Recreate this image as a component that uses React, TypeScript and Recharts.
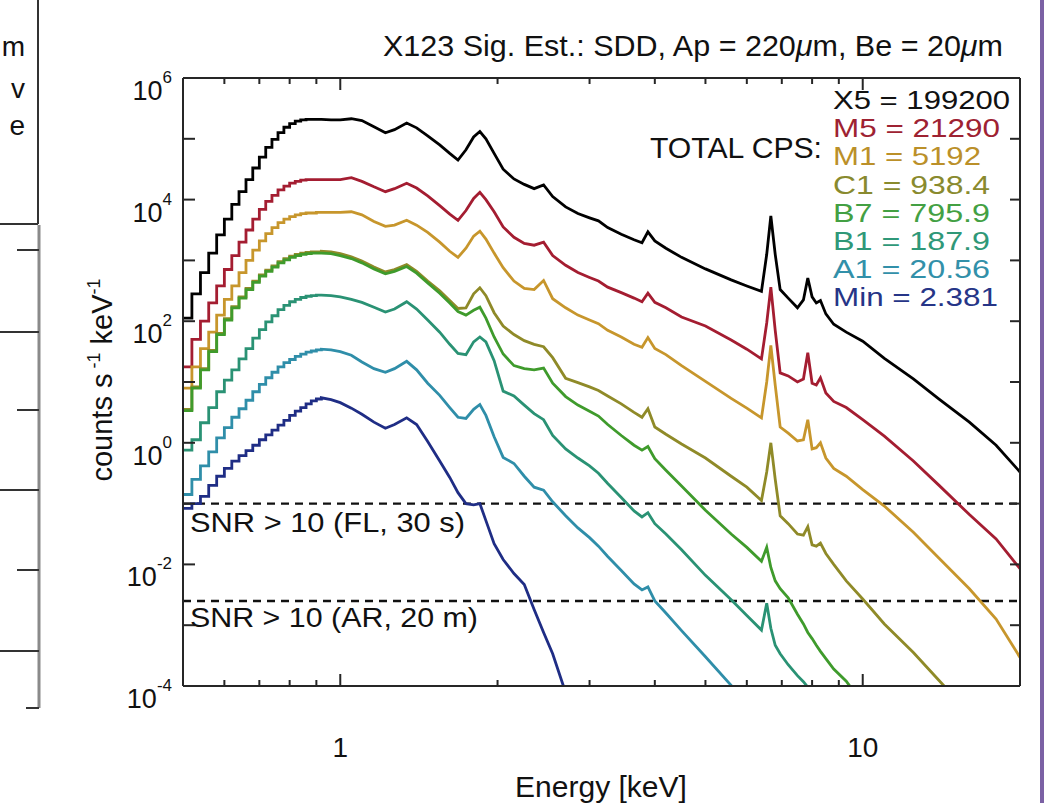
import React from 'react';
import { LineChart, Line, XAxis, YAxis, ReferenceLine } from 'recharts';

// ---------------- data ----------------
// Energies (keV). Low-energy part is binned: each value holds from its energy to the next one.
const LOW_E = [0.50, 0.52, 0.54, 0.56, 0.58, 0.60, 0.62, 0.64, 0.66, 0.68, 0.70, 0.72, 0.74, 0.76, 0.78, 0.80, 0.82, 0.84, 0.86, 0.88, 0.90];
const HIGH_E = [0.92, 0.96, 1.00, 1.05, 1.10, 1.16, 1.22, 1.27, 1.34, 1.40,
  1.47, 1.55, 1.62, 1.68, 1.74, 1.80, 1.85, 1.90, 1.97, 2.05,
  2.15, 2.25, 2.35, 2.45, 2.55, 2.70, 2.85, 3.00, 3.12, 3.25,
  3.45, 3.65, 3.78, 3.88, 4.00, 4.20, 4.50, 5.00, 5.60, 6.00,
  6.40, 6.55, 6.67, 6.80, 6.95, 7.20, 7.50, 7.70, 7.85, 8.00,
  8.15, 8.30, 8.50, 8.80, 9.30, 10.0, 11.0, 12.5, 14.0, 16.0,
  18.0, 20.0];

// Values are log10(counts s^-1 keV^-1); missing entries = below the plotted range.
const X5_LOW = [2.05, 2.45, 2.80, 3.12, 3.42, 3.68, 3.92, 4.13, 4.33, 4.52, 4.70, 4.86, 4.99, 5.10, 5.19, 5.25, 5.29, 5.31, 5.32, 5.32, 5.32];
const X5_HIGH = [5.32, 5.31, 5.31, 5.33, 5.30, 5.20, 5.10, 5.15, 5.26, 5.18,
  5.05, 4.90, 4.76, 4.65, 4.82, 5.03, 5.12, 5.00, 4.76, 4.50,
  4.34, 4.25, 4.18, 4.24, 4.05, 3.88, 3.77, 3.70, 3.65, 3.54,
  3.43, 3.34, 3.29, 3.47, 3.32, 3.20, 3.05, 2.86, 2.68, 2.58,
  2.49, 3.10, 3.73, 3.10, 2.52, 2.38, 2.22, 2.35, 2.71, 2.40,
  2.30, 2.34, 2.12, 1.95, 1.82, 1.67, 1.39, 1.05, 0.72, 0.34,
  -0.04, -0.48];

const M5_LOW = [1.25, 1.70, 2.00, 2.30, 2.58, 2.85, 3.08, 3.30, 3.50, 3.68, 3.84, 3.97, 4.07, 4.16, 4.22, 4.27, 4.30, 4.32, 4.33, 4.33, 4.33];
const M5_HIGH = [4.33, 4.33, 4.33, 4.36, 4.30, 4.21, 4.13, 4.18, 4.27, 4.19,
  4.06, 3.90, 3.76, 3.66, 3.82, 4.02, 4.12, 4.00, 3.80, 3.55,
  3.38, 3.28, 3.25, 3.30, 3.08, 2.92, 2.80, 2.72, 2.66, 2.56,
  2.47, 2.38, 2.32, 2.46, 2.31, 2.22, 2.07, 1.92, 1.69, 1.54,
  1.38, 1.97, 2.56, 1.85, 1.15, 1.10, 1.00, 1.05, 1.48, 0.98,
  0.95, 1.07, 0.82, 0.68, 0.58, 0.38, 0.11, -0.30, -0.70, -1.18,
  -1.58, -2.07];

const M1_LOW = [0.90, 1.25, 1.55, 1.82, 2.10, 2.36, 2.58, 2.80, 3.00, 3.17, 3.32, 3.44, 3.54, 3.62, 3.68, 3.72, 3.75, 3.77, 3.78, 3.78, 3.79];
const M1_HIGH = [3.79, 3.79, 3.79, 3.80, 3.75, 3.64, 3.56, 3.58, 3.66, 3.58,
  3.46, 3.30, 3.15, 3.05, 3.20, 3.40, 3.48, 3.35, 3.12, 2.88,
  2.66, 2.54, 2.52, 2.67, 2.37, 2.22, 2.10, 2.02, 1.96, 1.85,
  1.74, 1.62, 1.57, 1.73, 1.55, 1.45, 1.27, 1.01, 0.73, 0.57,
  0.41, 1.00, 1.60, 0.95, 0.26, 0.16, 0.03, 0.05, 0.38, -0.10,
  -0.08, 0.00, -0.25, -0.42, -0.55, -0.77, -1.04, -1.47, -1.90, -2.40,
  -2.90, -3.53];

const C1_LOW = [0.55, 0.92, 1.22, 1.52, 1.80, 2.04, 2.24, 2.40, 2.54, 2.66, 2.76, 2.84, 2.91, 2.98, 3.03, 3.07, 3.10, 3.12, 3.13, 3.14, 3.14];
const C1_HIGH = [3.15, 3.14, 3.11, 3.06, 2.99, 2.89, 2.81, 2.85, 2.93, 2.82,
  2.66, 2.50, 2.34, 2.21, 2.22, 2.45, 2.55, 2.42, 2.14, 1.92,
  1.78, 1.68, 1.62, 1.58, 1.40, 1.06, 0.99, 0.92, 0.86, 0.77,
  0.64, 0.50, 0.42, 0.56, 0.26, 0.14, -0.02, -0.25, -0.55, -0.73,
  -0.95, -0.48, 0.00, -0.60, -1.20, -1.33, -1.50, -1.52, -1.38, -1.68,
  -1.70, -1.65, -1.82, -2.00, -2.27, -2.57, -2.98, -3.45, -3.91, -4.45];

const B7_LOW = [0.53, 0.90, 1.20, 1.50, 1.78, 2.02, 2.22, 2.38, 2.52, 2.64, 2.74, 2.82, 2.89, 2.96, 3.01, 3.05, 3.08, 3.10, 3.11, 3.12, 3.12];
const B7_HIGH = [3.12, 3.11, 3.08, 3.03, 2.96, 2.86, 2.78, 2.82, 2.90, 2.79,
  2.63, 2.46, 2.30, 2.16, 2.10, 2.18, 2.23, 2.05, 1.74, 1.46,
  1.27, 1.22, 1.20, 1.23, 0.98, 0.76, 0.62, 0.52, 0.44, 0.30,
  0.12, -0.04, -0.12, -0.06, -0.26, -0.45, -0.71, -1.11, -1.50, -1.72,
  -1.95, -1.72, -2.05, -2.27, -2.40, -2.55, -2.82, -2.98, -3.12, -3.22,
  -3.33, -3.43, -3.55, -3.72, -3.92, -4.30];

const B1_LOW = [-0.12, 0.05, 0.33, 0.58, 0.84, 1.03, 1.20, 1.38, 1.55, 1.72, 1.86, 1.99, 2.09, 2.19, 2.26, 2.32, 2.36, 2.39, 2.41, 2.42, 2.43];
const B1_HIGH = [2.43, 2.42, 2.40, 2.36, 2.31, 2.23, 2.15, 2.20, 2.32, 2.20,
  2.02, 1.82, 1.62, 1.47, 1.45, 1.66, 1.74, 1.66, 1.35, 0.85,
  0.77, 0.62, 0.48, 0.38, 0.12, -0.10, -0.25, -0.38, -0.50, -0.67,
  -0.90, -1.12, -1.22, -1.15, -1.33, -1.50, -1.76, -2.18, -2.58, -2.84,
  -3.08, -2.64, -3.05, -3.33, -3.47, -3.65, -3.83, -3.93, -4.02, -4.12];

const A1_LOW = [-0.85, -0.60, -0.38, -0.15, 0.08, 0.25, 0.42, 0.56, 0.70, 0.84, 0.96, 1.07, 1.16, 1.25, 1.32, 1.37, 1.42, 1.46, 1.49, 1.51, 1.53];
const A1_HIGH = [1.54, 1.53, 1.50, 1.44, 1.33, 1.22, 1.16, 1.22, 1.34, 1.20,
  0.98, 0.78, 0.58, 0.42, 0.40, 0.55, 0.63, 0.45, 0.10, -0.24,
  -0.34, -0.55, -0.73, -0.78, -0.97, -1.20, -1.40, -1.56, -1.70, -1.87,
  -2.10, -2.32, -2.42, -2.37, -2.60, -2.80, -3.09, -3.52, -3.99, -4.28];

const MIN_LOW = [-1.08, -1.00, -0.88, -0.70, -0.55, -0.42, -0.30, -0.21, -0.13, -0.04, 0.05, 0.13, 0.21, 0.29, 0.37, 0.45, 0.52, 0.58, 0.64, 0.69, 0.72];
const MIN_HIGH = [0.74, 0.71, 0.66, 0.57, 0.47, 0.34, 0.24, 0.30, 0.41, 0.30,
  0.02, -0.30, -0.57, -0.82, -1.00, -1.02, -1.00, -1.28, -1.66, -1.92,
  -2.15, -2.33, -2.74, -3.12, -3.47, -4.11];

const SERIES_NAMES = ['X5', 'M5', 'M1', 'C1', 'B7', 'B1', 'A1', 'Min'];
const TOTAL_CPS = ['199200', '21290', '5192', '938.4', '795.9', '187.9', '20.56', '2.381'];
const SERIES_COLORS = ['#000000', '#a41d31', '#c7962c', '#8f8a28', '#3f9b2c', '#2a9274', '#2f8ea9', '#1f2d85'];
const TEXT_COLORS = ['#111111', '#9e2232', '#bb9029', '#898a2e', '#43a043', '#2f9878', '#3290a9', '#263587'];
const LEGEND_WIDTHS = [177, 167, 148, 157, 157, 157, 157, 165];
const SERIES_LOW = [X5_LOW, M5_LOW, M1_LOW, C1_LOW, B7_LOW, B1_LOW, A1_LOW, MIN_LOW];
const SERIES_HIGH = [X5_HIGH, M5_HIGH, M1_HIGH, C1_HIGH, B7_HIGH, B1_HIGH, A1_HIGH, MIN_HIGH];

const X_TICKS = [0.6, 0.7, 0.8, 0.9, 1, 2, 3, 4, 5, 6, 7, 8, 9, 10, 20];
const X_LABELLED = [1, 10];
const Y_TICKS = [1e-4, 1e-3, 1e-2, 1e-1, 1, 1e1, 1e2, 1e3, 1e4, 1e5, 1e6];
const Y_LABELLED_EXP = [-4, -2, 0, 2, 4, 6];
const SNR_LEVELS = [0.1, 0.0025];
const SNR_LABELS = ['SNR > 10 (FL, 30 s)', 'SNR > 10 (AR, 20 m)'];
const NEIGHBOUR_TEXT = ['m', 'v', 'e'];

// ---------------- table for the library ----------------
const toCounts = (lg: number | undefined) => (lg === undefined || lg === null ? null : Math.pow(10, lg));
type Row = { e: number; [k: string]: number | null };
const rows: Row[] = [];
LOW_E.forEach((e0, i) => {
  const e1 = i + 1 < LOW_E.length ? LOW_E[i + 1] : HIGH_E[0];
  const a: Row = { e: e0 };
  const b: Row = { e: e1 };
  SERIES_NAMES.forEach((name, s) => {
    a[name] = toCounts(SERIES_LOW[s][i]);
    b[name] = toCounts(SERIES_LOW[s][i]);
  });
  rows.push(a, b);
});
HIGH_E.forEach((e, i) => {
  const r: Row = { e };
  SERIES_NAMES.forEach((name, s) => {
    r[name] = toCounts(SERIES_HIGH[s][i]);
  });
  rows.push(r);
});

// ---------------- layout & styling ----------------
const FONT = "'Liberation Sans', Arial, Helvetica, sans-serif";
const AXIS_COLOR = '#262626';
const W = 1052;
const H = 803;
const MARGIN = { top: 78, right: 32, bottom: 57, left: 103 };
const Y_AXIS_W = 80;
const X_AXIS_H = 60;
const PLOT_TOP = MARGIN.top;
const PLOT_RIGHT = W - MARGIN.right;

// Bottom axis tick: the library gives x (scaled energy) and y (bottom edge of the plot).
const XTick = (props: any) => {
  const { x, y, payload } = props;
  const major = X_LABELLED.includes(payload.value);
  const len = major ? 12 : 6;
  return (
    <g>
      <line x1={x} y1={y} x2={x} y2={y - len} stroke={AXIS_COLOR} strokeWidth={2} />
      <line x1={x} y1={PLOT_TOP} x2={x} y2={PLOT_TOP + len} stroke={AXIS_COLOR} strokeWidth={2} />
      {major && (
        <text x={x} y={y + 71} textAnchor="middle" fontSize={28} fontFamily={FONT} fill="#111">
          {payload.value}
        </text>
      )}
    </g>
  );
};

// Left axis tick: the library gives x (left edge of the plot) and y (scaled count rate).
const YTick = (props: any) => {
  const { x, y, payload } = props;
  const exp = Math.round(Math.log10(payload.value));
  const labelled = Y_LABELLED_EXP.includes(exp);
  return (
    <g>
      <line x1={x} y1={y} x2={x + 12} y2={y} stroke={AXIS_COLOR} strokeWidth={2} />
      <line x1={PLOT_RIGHT} y1={y} x2={PLOT_RIGHT - 10} y2={y} stroke={AXIS_COLOR} strokeWidth={2} />
      {labelled && (
        <text x={x - 11} y={y + 22} textAnchor="end" fontSize={27} fontFamily={FONT} fill="#111">
          10
          <tspan dy={-17} fontSize={17}>{exp}</tspan>
        </text>
      )}
    </g>
  );
};

const axisLineStyle = { stroke: AXIS_COLOR, strokeWidth: 2 };

export default function App() {
  return (
    <div style={{ position: 'absolute', left: 0, top: 0, width: W, height: H, background: '#ffffff', overflow: 'hidden' }}>
      <LineChart width={W} height={H} data={rows} margin={MARGIN}>
        <XAxis xAxisId="e" dataKey="e" type="number" scale="log" domain={[0.5, 20]} allowDataOverflow
          ticks={X_TICKS} interval={0} height={X_AXIS_H} tickLine={false} axisLine={axisLineStyle} tickSize={0} tickMargin={0}
          tick={(p: any) => <XTick {...p} />} />
        <XAxis xAxisId="top" type="number" scale="log" domain={[0.5, 20]} allowDataOverflow orientation="top" mirror
          ticks={X_LABELLED} tick={false} tickLine={false} axisLine={axisLineStyle} />
        <YAxis yAxisId="c" type="number" scale="log" domain={[1e-4, 1e6]} allowDataOverflow
          ticks={Y_TICKS} interval={0} width={Y_AXIS_W} tickLine={false} axisLine={axisLineStyle} tickSize={0} tickMargin={0}
          tick={(p: any) => <YTick {...p} />} />
        <YAxis yAxisId="right" type="number" scale="log" domain={[1e-4, 1e6]} allowDataOverflow orientation="right" mirror
          ticks={[1, 1e2]} tick={false} tickLine={false} axisLine={axisLineStyle} />

        {SNR_LEVELS.map((lvl) => (
          <ReferenceLine key={lvl} xAxisId="e" yAxisId="c" y={lvl} stroke="#111" strokeWidth={2.3} strokeDasharray="8 6" />
        ))}

        {SERIES_NAMES.map((name, s) => (
          <Line key={name} xAxisId="e" yAxisId="c" dataKey={name} type="linear" stroke={SERIES_COLORS[s]}
            strokeWidth={2.8} dot={false} activeDot={false} isAnimationActive={false} connectNulls={false} />
        ))}
      </LineChart>

      <svg width={W} height={H} style={{ position: 'absolute', left: 0, top: 0, pointerEvents: 'none' }} fontFamily={FONT}>
        {/* title */}
        <text x={383} y={56} fontSize={30} fill="#111" textLength={620} lengthAdjust="spacingAndGlyphs">
          X123 Sig. Est.: SDD, Ap = 220<tspan fontStyle="italic">μ</tspan>m, Be = 20<tspan fontStyle="italic">μ</tspan>m
        </text>
        {/* legend */}
        <text x={650} y={158} fontSize={29} fill="#111" textLength={172} lengthAdjust="spacingAndGlyphs">TOTAL CPS:</text>
        {SERIES_NAMES.map((name, s) => (
          <text key={name} x={833} y={109 + s * 28.2} fontSize={25} fill={TEXT_COLORS[s]}
            textLength={LEGEND_WIDTHS[s]} lengthAdjust="spacingAndGlyphs">
            {`${name} = ${TOTAL_CPS[s]}`}
          </text>
        ))}
        {/* SNR labels */}
        <text x={190} y={532} fontSize={28} fill="#111" textLength={275} lengthAdjust="spacingAndGlyphs">{SNR_LABELS[0]}</text>
        <text x={190} y={627} fontSize={28} fill="#111" textLength={288} lengthAdjust="spacingAndGlyphs">{SNR_LABELS[1]}</text>
        {/* axis titles */}
        <text x={601} y={797} textAnchor="middle" fontSize={30} fill="#111">Energy [keV]</text>
        <text transform="translate(112,380) rotate(-90)" textAnchor="middle" fontSize={29} fill="#111">
          counts s<tspan dy={-12} fontSize={18}> -1</tspan><tspan dy={12}> keV</tspan><tspan dy={-12} fontSize={18}>-1</tspan>
        </text>
        {/* neighbouring panel, cropped at the left edge */}
        <g stroke="#333" strokeWidth={2} fill="none">
          <line x1={38} y1={0} x2={38} y2={224} />
          <line x1={0} y1={224} x2={38} y2={224} />
          <line x1={39} y1={225} x2={39} y2={708} stroke="#8a8a8a" strokeWidth={3} />
          <line x1={26} y1={708} x2={39} y2={708} />
          {[250, 332, 410, 490, 570, 651].map((yy, i) => (
            <line key={yy} x1={i % 2 === 0 ? 17 : 0} y1={yy} x2={39} y2={yy} />
          ))}
        </g>
        {NEIGHBOUR_TEXT.map((t, i) => (
          <text key={t} x={25} y={[56, 98, 135][i]} textAnchor="end" fontSize={28} fill="#111">{t}</text>
        ))}
        {/* purple page border on the right */}
        <rect x={1040} y={0} width={4} height={H} fill="#7b61a4" />
      </svg>
    </div>
  );
}
